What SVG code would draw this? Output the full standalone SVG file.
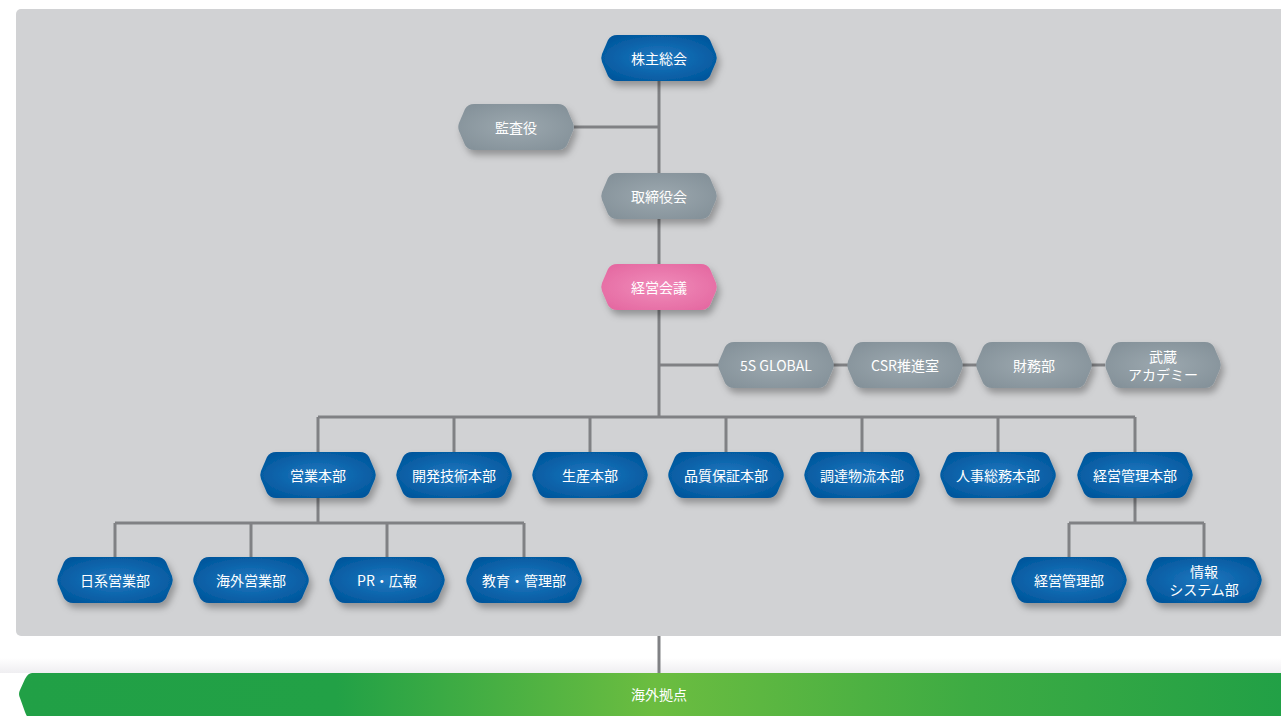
<svg xmlns="http://www.w3.org/2000/svg" width="1281" height="716" viewBox="0 0 1281 716">
<style>
.t{font-family:"Noto Sans CJK JP","Noto Sans",sans-serif;font-size:14px;fill:#ffffff;text-anchor:middle;dominant-baseline:central}
.c{stroke:#808184;stroke-width:3;fill:none}
.b{fill:url(#gb);filter:url(#sh)}
.g{fill:url(#gg);filter:url(#sh)}
.p{fill:url(#gp);filter:url(#sh)}
</style>
<defs>
<radialGradient id="gb" cx="0.5" cy="0.5" r="0.6"><stop offset="0" stop-color="#1f78c0"/><stop offset="1" stop-color="#00569c"/></radialGradient>
<radialGradient id="gg" cx="0.5" cy="0.5" r="0.6"><stop offset="0" stop-color="#9ca8af"/><stop offset="1" stop-color="#85929a"/></radialGradient>
<radialGradient id="gp" cx="0.5" cy="0.5" r="0.6"><stop offset="0" stop-color="#f08cba"/><stop offset="1" stop-color="#e56aa2"/></radialGradient>
<linearGradient id="gr" x1="0" y1="0" x2="1" y2="0"><stop offset="0" stop-color="#21a046"/><stop offset="0.25" stop-color="#22a146"/><stop offset="0.5" stop-color="#6cbd40"/><stop offset="0.75" stop-color="#3dab43"/><stop offset="1" stop-color="#21a046"/></linearGradient>
<linearGradient id="ws" x1="0" y1="0" x2="0" y2="1"><stop offset="0" stop-color="#ffffff"/><stop offset="1" stop-color="#efeef1"/></linearGradient>
<filter id="sh" x="-20%" y="-30%" width="150%" height="180%"><feDropShadow dx="3" dy="5" stdDeviation="3.5" flood-color="#000" flood-opacity="0.3"/></filter>
<path id="hx" d="M -42,-23 H 42 Q 48,-23 51,-18 L 57,-4 Q 58.5,0 57,4 L 51,18 Q 48,23 42,23 H -42 Q -48,23 -51,18 L -57,4 Q -58.5,0 -57,-4 L -51,-18 Q -48,-23 -42,-23 Z"/>
</defs>
<rect x="0" y="0" width="1281" height="716" fill="#ffffff"/>
<rect x="16" y="9" width="1280" height="627" rx="5" fill="#d1d2d4"/>
<rect x="0" y="658" width="1281" height="15" fill="url(#ws)"/>
<g id="overseas">
<path d="M 32,673 H 1290 V 720 H 32 Q 28,720 25,712 L 20,698 Q 18,694 20,690 L 25,679 Q 28,673 32,673 Z" fill="url(#gr)"/>
<text class="t" x="659" y="694">海外拠点</text>
</g>
<g id="connectors">
<path class="c" d="M659,81 V417 M574,127 H659 M659,365 H1105 M318,417 H1135 M318,417 V453 M454,417 V453 M590,417 V453 M726,417 V453 M862,417 V453 M998,417 V453 M1135,417 V453 M318,498 V523 M115,523 H524 M115,523 V558 M251,523 V558 M387,523 V558 M524,523 V558 M1135,498 V523 M1069,523 H1204 M1069,523 V558 M1204,523 V558 M659,636 V673"/>
</g>
<g id="n-kabunushi"><use href="#hx" class="b" x="659" y="58"/><text class="t" x="659" y="58">株主総会</text></g>
<g id="n-kansayaku"><use href="#hx" class="g" x="516" y="127"/><text class="t" x="516" y="127">監査役</text></g>
<g id="n-torishimari"><use href="#hx" class="g" x="659" y="196"/><text class="t" x="659" y="196">取締役会</text></g>
<g id="n-keiei"><use href="#hx" class="p" x="659" y="287"/><text class="t" x="659" y="287">経営会議</text></g>
<g id="n-5s"><use href="#hx" class="g" x="776" y="365"/><text class="t" x="776" y="365">5S GLOBAL</text></g>
<g id="n-csr"><use href="#hx" class="g" x="905" y="365"/><text class="t" x="905" y="365">CSR推進室</text></g>
<g id="n-zaimu"><use href="#hx" class="g" x="1034" y="365"/><text class="t" x="1034" y="365">財務部</text></g>
<g id="n-academy"><use href="#hx" class="g" x="1163" y="365"/><text class="t" x="1163" y="356">武蔵</text><text class="t" x="1163" y="374">アカデミー</text></g>
<g id="n-eigyo"><use href="#hx" class="b" x="318" y="475"/><text class="t" x="318" y="475">営業本部</text></g>
<g id="n-kaihatsu"><use href="#hx" class="b" x="454" y="475"/><text class="t" x="454" y="475">開発技術本部</text></g>
<g id="n-seisan"><use href="#hx" class="b" x="590" y="475"/><text class="t" x="590" y="475">生産本部</text></g>
<g id="n-hinshitsu"><use href="#hx" class="b" x="726" y="475"/><text class="t" x="726" y="475">品質保証本部</text></g>
<g id="n-chotatsu"><use href="#hx" class="b" x="862" y="475"/><text class="t" x="862" y="475">調達物流本部</text></g>
<g id="n-jinji"><use href="#hx" class="b" x="998" y="475"/><text class="t" x="998" y="475">人事総務本部</text></g>
<g id="n-keieikanri"><use href="#hx" class="b" x="1135" y="475"/><text class="t" x="1135" y="475">経営管理本部</text></g>
<g id="n-nikkei"><use href="#hx" class="b" x="115" y="580"/><text class="t" x="115" y="580">日系営業部</text></g>
<g id="n-kaigai"><use href="#hx" class="b" x="251" y="580"/><text class="t" x="251" y="580">海外営業部</text></g>
<g id="n-pr"><use href="#hx" class="b" x="387" y="580"/><text class="t" x="387" y="580">PR・広報</text></g>
<g id="n-kyoiku"><use href="#hx" class="b" x="524" y="580"/><text class="t" x="524" y="580">教育・管理部</text></g>
<g id="n-keieikanribu"><use href="#hx" class="b" x="1069" y="580"/><text class="t" x="1069" y="580">経営管理部</text></g>
<g id="n-joho"><use href="#hx" class="b" x="1204" y="580"/><text class="t" x="1204" y="571">情報</text><text class="t" x="1204" y="589">システム部</text></g>
</svg>
